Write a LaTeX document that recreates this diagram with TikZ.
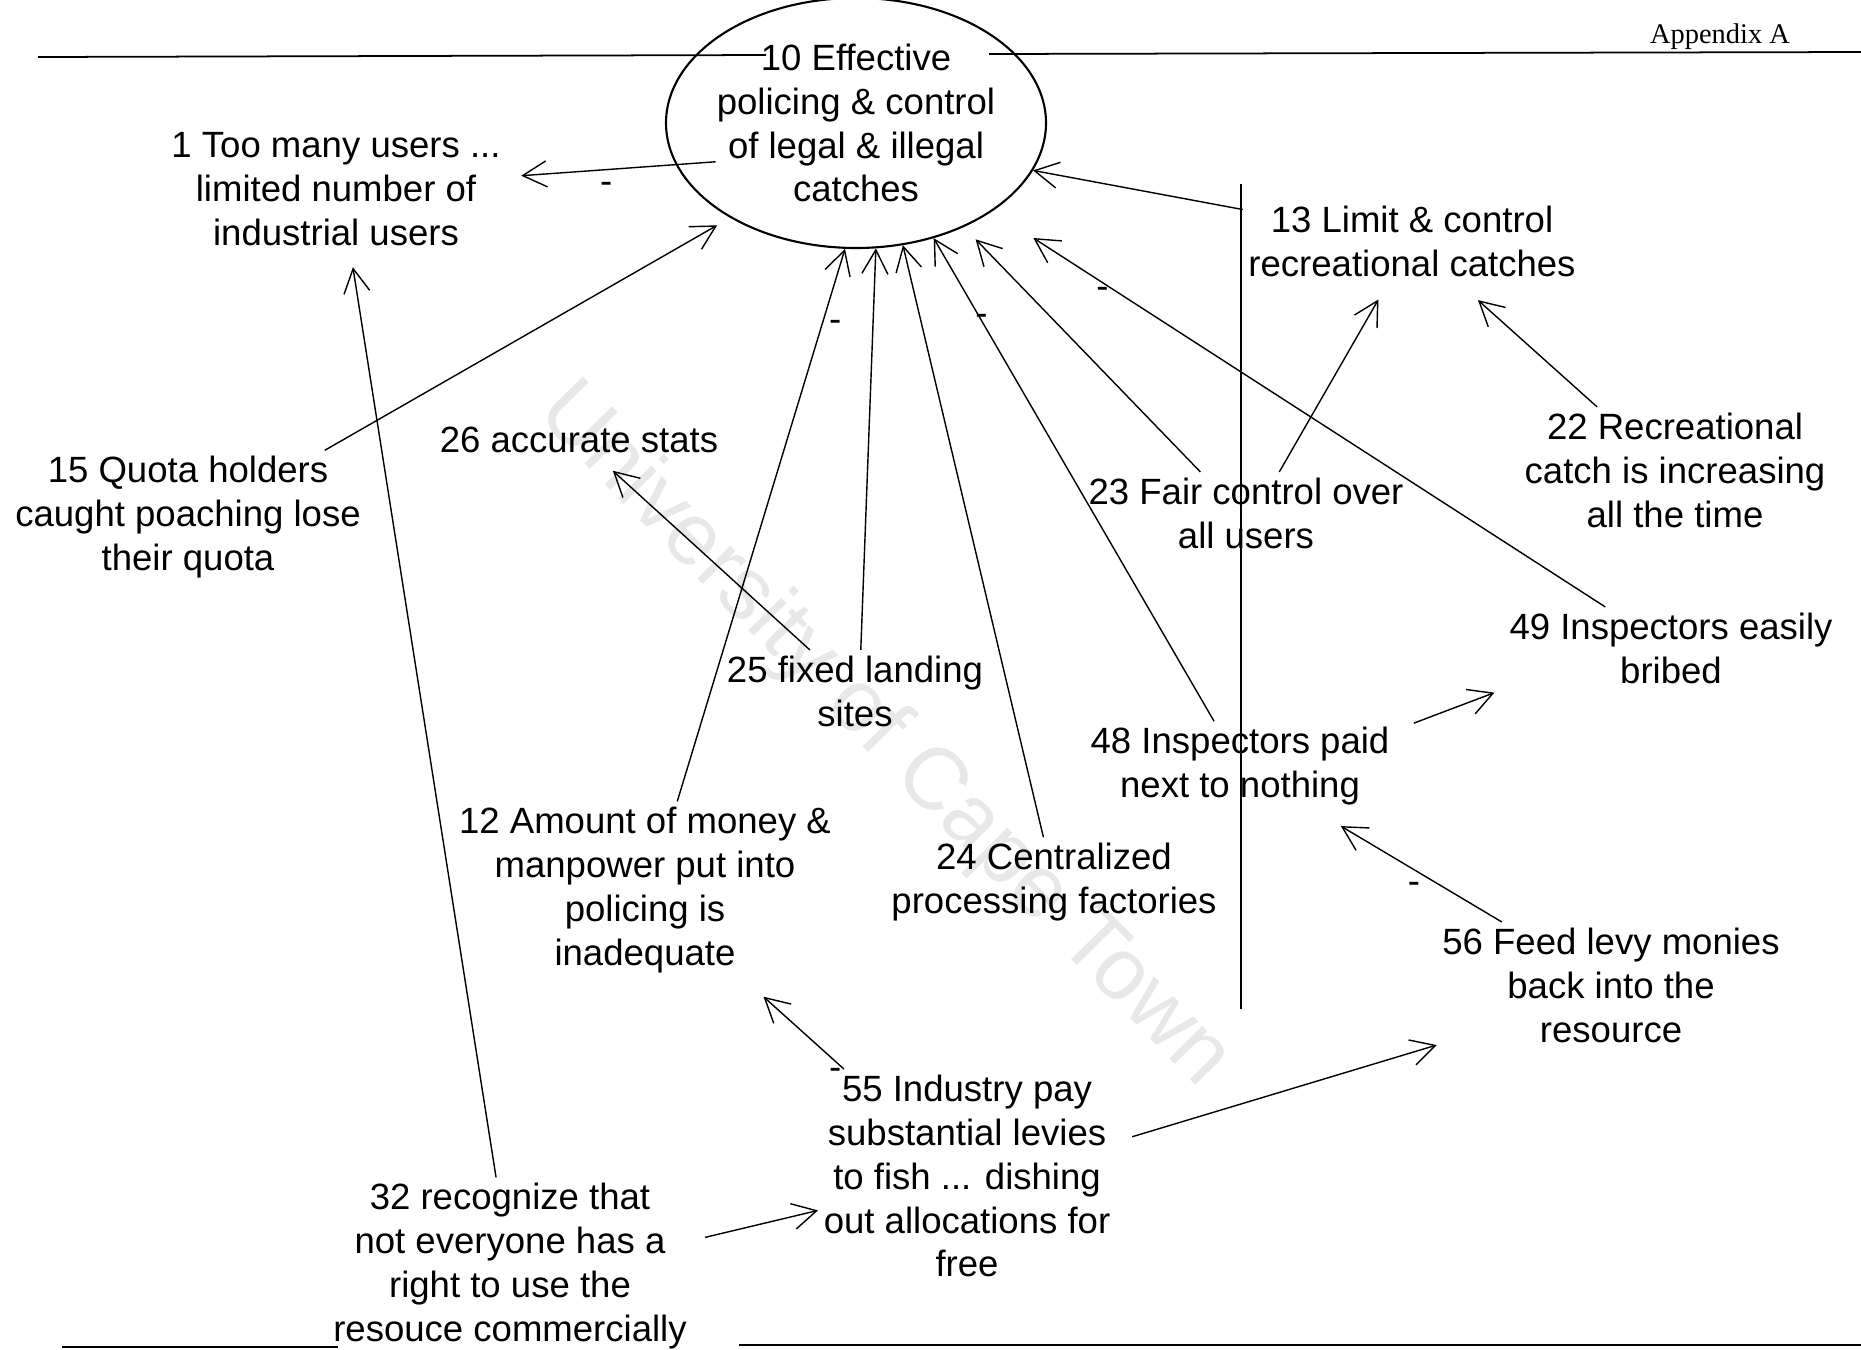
\documentclass[tikz,border=0pt]{standalone}
\usepackage{fontspec}
\setmainfont{Liberation Sans}
\newfontfamily\headfont{Liberation Serif}
\usetikzlibrary{arrows.meta,shapes.geometric}
\tikzset{
    issue/.style={align=center,inner sep=0.5mm,font=\fontsize{10.4}{12.5}\selectfont},
    core/.style={issue,ellipse,draw,line width=0.6pt,inner sep=0pt,inner xsep=-0.6mm,minimum width=38mm,minimum height=25mm},
    sign/.style={inner sep=0pt,font=\fontsize{10.4}{12.5}\selectfont},
    directed/.style={line width=0.4pt,arrows={-Straight Barb[length=2.4mm,width=2.6mm]}},
    rule/.style={line width=0.5pt},
    stamp/.style={text=gray!18,font=\fontsize{25}{30}\selectfont,rotate=-45.5},
    every node/.style={issue},
    }
\begin{document}
\begin{tikzpicture}[x=0.1mm,y=-0.1mm]
	\useasboundingbox (0,0) rectangle (1861,1349);
	\node[stamp] (wm) at (884,736) {University of Cape Town};
	\node[font=\headfont\fontsize{8.1}{10}\selectfont] (app) at (1720,37) {Appendix A};

	\coordinate (ta) at (38,57);
	\coordinate (tb) at (766,55);
	\coordinate (tc) at (989,54);
	\coordinate (td) at (1861,52);
	\coordinate (ba) at (62,1347);
	\coordinate (bb) at (338,1347);
	\coordinate (bc) at (739,1345);
	\coordinate (bd) at (1861,1345);
	\coordinate (va) at (1241,184);
	\coordinate (vb) at (1241,1009);
	\draw[rule] (ta) -- (tb);
	\draw[rule] (tc) -- (td);
	\draw[rule] (ba) -- (bb);
	\draw[rule] (bc) -- (bd);
	\draw[line width=0.4pt] (va) -- (vb);

		\node[core] (n10) at (856,123) {10 Effective\\policing \& control\\of legal \& illegal\\catches};
		\node (n1) at (336,189) {1 Too many users ...\\limited number of\\industrial users};
		\node (n15) at (188,517) {15 Quota holders\\caught poaching lose\\their quota};
		\node (n26) at (579,440) {26 accurate stats};
		\node (n25) at (855,691) {25 fixed landing\\sites};
		\node (n12) at (645,890) {12 Amount of money \&\\manpower put into\\policing is\\inadequate};
		\node (n24) at (1054,882) {24 Centralized\\processing factories};
		\node (n13) at (1412,241) {13 Limit \& control\\recreational catches};
		\node (n22) at (1675,470) {22 Recreational\\catch is increasing\\all the time};
		\node (n23) at (1246,513) {23 Fair control over\\all users};
		\node (n49) at (1671,648) {49 Inspectors easily\\bribed};
		\node (n48) at (1240,766) {48 Inspectors paid\\next to nothing};
		\node (n56) at (1611,985) {56 Feed levy monies\\back into the\\resource};
		\node (n55) at (967,1176) {55 Industry pay\\substantial levies\\to fish ... dishing\\out allocations for\\free};
		\node (n32) at (510,1266) {32 recognize that\\not everyone has a\\right to use the\\resouce commercially};

	\draw[directed,shorten <=-4mm,shorten >=1.5mm] (n10.193) to node[sign,pos=.41,below=1.2mm] {-} (n1);
	\draw[directed,shorten >=1.5mm] (n15.26) to (n10.217);
	\draw[directed] (n12.70) to node[sign,pos=.86,right=.7mm] {-} (n10.265);
        \draw[directed] (n25.82) to (n10.279);
        \draw[directed] (n24) to (n10.291);
        \draw[directed] (n48) to node[sign,pos=.83] {-} (n10.304);
        \draw[directed,shorten >=1.7mm] (n23.138) to (n10.316);
        \draw[directed,shorten >=4.9mm] (n49.148) to node[sign,pos=.82,below=.4mm] {-} (n10.327);
        \draw[directed] (n13) to (n10.345);
        \draw[directed,shorten >=1.8mm] (n25) to (n26);
        \draw[directed,shorten >=1.6mm] (n32) to (n1.283);
        \draw[directed,shorten <=1.3mm] (n32.8) to (n55.193);
        \draw[directed,shorten >=2.7mm] (n55.139) to node[sign,pos=0,left=.2mm,yshift=-.5mm] {-} (n12);
        \draw[directed,shorten <=1.7mm] (n55.13) to (n56.199);
        \draw[directed,shorten >=3mm] (n56.150) to node[sign,pos=.47,below=1.2mm] {-} (n48);
        \draw[directed,shorten <=2mm,shorten >=1mm] (n48.13) to (n49.south west);
        \draw[directed,shorten >=2.7mm] (n22.141) to (n13);
        \draw[directed,shorten >=2mm] (n23.51) to (n13);
    \end{tikzpicture}
\end{document}
